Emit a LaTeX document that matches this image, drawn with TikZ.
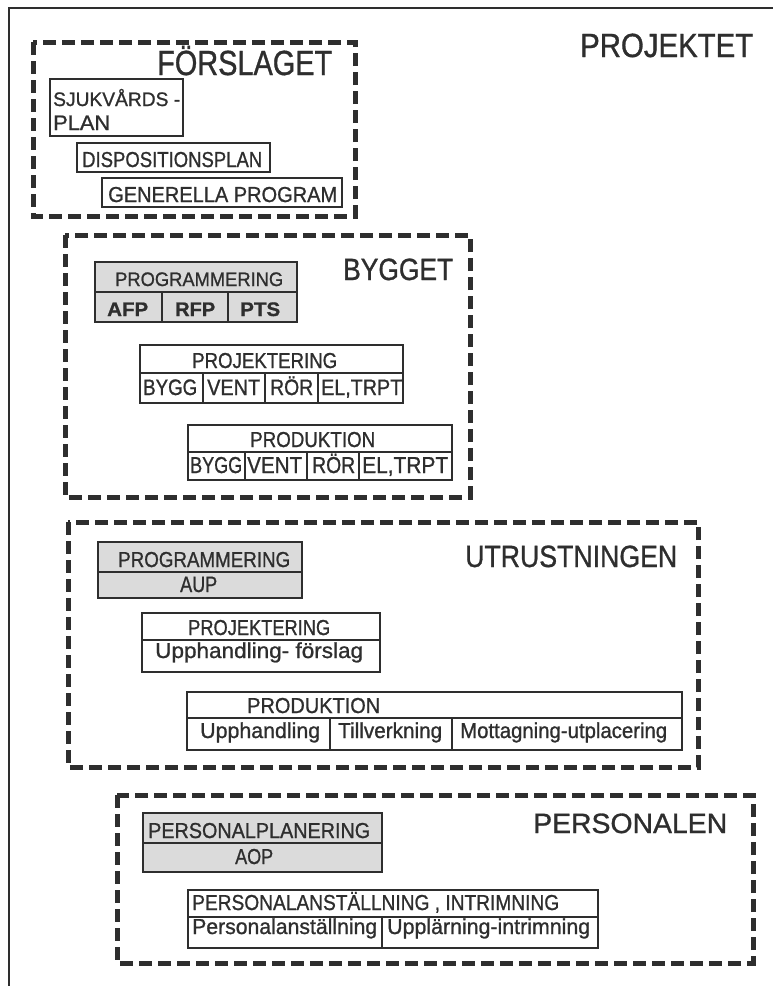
\documentclass[tikz,border=0pt]{standalone}
\usepackage{fontspec}
\setmainfont[FakeBold=1]{Liberation Sans}
\usepackage{graphicx}

% set a text to a given width, keeping its height
\newlength\fitlen
\newcommand\fitto[2]{\settowidth\fitlen{#2}\pgfmathsetmacro\fitratio{(#1)/\fitlen}\scalebox{\fitratio}[1]{#2}}
% \lbl{name}{left x}{baseline y}{cap height}{width}{text}
\newcommand\lbl[6]{%
  \pgfmathsetmacro\fsz{#4/0.716}%
  \node[txt, font=\fontsize{\fsz pt}{\fsz pt}\selectfont] (#1) at (#2,#3) {\fitto{#5}{#6}};}

\tikzset{
  ink/.style={draw=black!82},
  txt/.style={anchor=base west, inner sep=0pt, text=black!82},
  frame/.style={ink, line width=5pt, dash pattern=on 13pt off 6pt},
  cell/.style={ink, line width=2pt},
  shade/.style={cell, fill=black!14},
}

\begin{document}
\begin{tikzpicture}[x=1pt, y=-1pt]
\useasboundingbox (0,0) rectangle (773,986);
\fill[white] (0,0) rectangle (773,986);

% outer project frame
\coordinate (oTL) at (9,8);
\draw[ink, line width=1.6pt] (9,986) -- (oTL) -- (773,8);
\lbl{projektet}{580}{57}{24}{173}{PROJEKTET}

% ---- Förslaget
\draw[frame] (33,42) rectangle (355,216);
\lbl{forslaget}{157}{75}{25}{175}{FÖRSLAGET}
\draw[cell] (50,79) rectangle (183,136);
\lbl{sjuk1}{53}{106}{14}{127}{SJUKVÅRDS -}
\lbl{sjuk2}{53}{130}{15}{57}{PLAN}
\draw[cell] (77,143) rectangle (270,172);
\lbl{disp}{82}{167}{15.5}{180}{DISPOSITIONSPLAN}
\draw[cell] (102,178) rectangle (342,207);
\lbl{gen}{108}{202}{15.5}{229}{GENERELLA PROGRAM}

% ---- Bygget
\draw[frame] (65,235) rectangle (470,497);
\lbl{bygget}{343}{280}{22}{110}{BYGGET}
\draw[shade] (95,262) rectangle (297,322);
\draw[cell] (95,292) -- (297,292) (162,292) -- (162,322) (228,292) -- (228,322);
\lbl{bprog}{115}{286}{14}{168}{PROGRAMMERING}
\lbl{afp}{107}{316}{14}{41}{\bfseries AFP}
\lbl{rfp}{175}{316}{14}{40}{\bfseries RFP}
\lbl{pts}{240}{316}{14}{40}{\bfseries PTS}

\draw[cell] (140,345) rectangle (403,403);
\draw[cell] (140,373) -- (403,373) (203,373) -- (203,403) (265,373) -- (265,403) (318,373) -- (318,403);
\lbl{bproj}{192}{368}{15.5}{145}{PROJEKTERING}
\lbl{pbygg}{143}{395}{16}{54}{BYGG}
\lbl{pvent}{207}{395}{16}{53}{VENT}
\lbl{pror}{270}{395}{16}{43}{RÖR}
\lbl{pel}{321}{395}{16}{81}{EL,TRPT}

\draw[cell] (188,425) rectangle (452,480);
\draw[cell] (188,452) -- (452,452) (245,452) -- (245,480) (307,452) -- (307,480) (359,452) -- (359,480);
\lbl{bprod}{250}{447}{15.5}{125}{PRODUKTION}
\lbl{dbygg}{190}{473}{16.5}{52}{BYGG}
\lbl{dvent}{247}{473}{16.5}{55}{VENT}
\lbl{dror}{312}{473}{16.5}{43}{RÖR}
\lbl{del}{362}{473}{16.5}{86}{EL,TRPT}

% ---- Utrustningen
\draw[frame] (68,522) rectangle (698,767);
\lbl{utr}{465}{567}{22}{212}{UTRUSTNINGEN}
\draw[shade] (98,542) rectangle (302,598);
\draw[cell] (98,572) -- (302,572);
\lbl{uprog}{118}{567}{15.5}{172}{PROGRAMMERING}
\lbl{aup}{180}{592}{16}{37}{AUP}

\draw[cell] (142,613) rectangle (380,672);
\draw[cell] (142,640) -- (380,640);
\lbl{uproj}{188}{635}{15.5}{142}{PROJEKTERING}
\lbl{upf}{155}{658}{15.5}{208}{Upphandling- förslag}

\draw[cell] (187,692) rectangle (682,750);
\draw[cell] (187,718) -- (682,718) (330,718) -- (330,750) (452,718) -- (452,750);
\lbl{uprod}{247}{713}{15.5}{133}{PRODUKTION}
\lbl{upph}{200}{738}{15.5}{120}{Upphandling}
\lbl{till}{338}{738}{15.5}{104}{Tillverkning}
\lbl{mott}{460}{738}{15.5}{207}{Mottagning-utplacering}

% ---- Personalen
\draw[frame] (117,795) rectangle (753,963);
\lbl{pers}{533}{833}{20}{194}{PERSONALEN}
\draw[shade] (143,813) rectangle (382,872);
\draw[cell] (143,843) -- (382,843);
\lbl{ppl}{148}{838}{15.5}{222}{PERSONALPLANERING}
\lbl{aop}{235}{864}{15.5}{38}{AOP}

\draw[cell] (188,890) rectangle (598,948);
\draw[cell] (188,917) -- (598,917) (382,917) -- (382,948);
\lbl{pai}{192}{910}{15.5}{367}{PERSONALANSTÄLLNING , INTRIMNING}
\lbl{pa}{192}{934}{15.5}{185}{Personalanställning}
\lbl{upi}{387}{934}{15.5}{203}{Upplärning-intrimning}
\end{tikzpicture}
\end{document}
